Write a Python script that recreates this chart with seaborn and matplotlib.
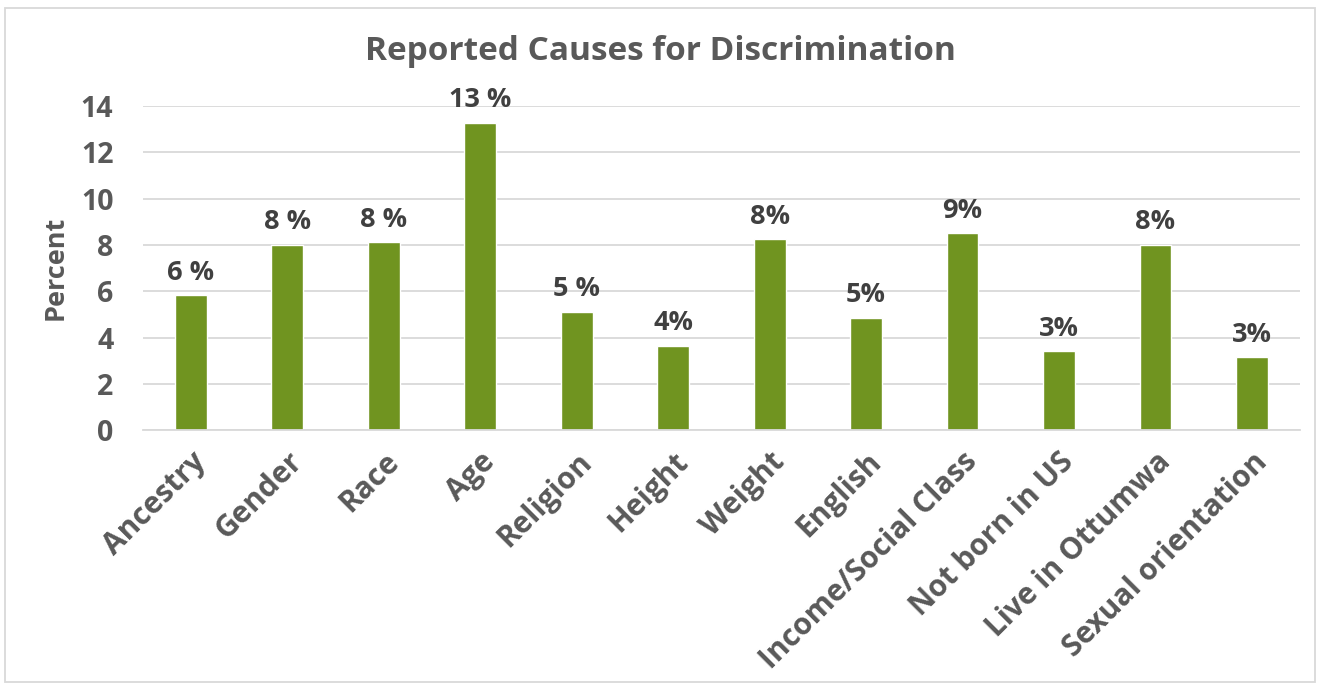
import matplotlib
matplotlib.use("Agg")
import matplotlib.pyplot as plt
import seaborn as sns
import pandas as pd
from matplotlib.patches import Rectangle

categories = ["Ancestry", "Gender", "Race", "Age", "Religion", "Height", "Weight",
              "English", "Income/Social Class", "Not born in US", "Live in Ottumwa",
              "Sexual orientation"]
values = [5.83, 8.0, 8.12, 13.28, 5.1, 3.63, 8.25, 4.84, 8.5, 3.41, 8.0, 3.15]
labels = ["6 %", "8 %", "8 %", "13 %", "5 %", "4%", "8%", "5%", "9%", "3%", "8%", "3%"]
yticks = [0, 2, 4, 6, 8, 10, 12, 14]

sns.set_theme(style="white")
plt.rcParams['font.family'] = ['Open Sans', 'DejaVu Sans']
plt.rcParams['font.weight'] = 'bold'

grey = "#595959"
bar_color = "#709420"

df = pd.DataFrame({"cat": categories, "val": values})

fig = plt.figure(figsize=(13.2, 6.85), dpi=100)
ax = fig.add_axes([0.108, 0.372, 0.877, 0.473])
sns.barplot(data=df, x="cat", y="val", color=bar_color, width=0.33, saturation=1, ax=ax)

ax.set_ylim(0, 14)
ax.set_yticks(yticks)
ax.set_yticklabels([str(t) for t in yticks], fontsize=20.5, fontweight='bold', color=grey)
ax.yaxis.grid(True, color="#d9d9d9", linewidth=1.3)
ax.set_axisbelow(True)
for s in ["top", "right", "left"]:
    ax.spines[s].set_visible(False)
ax.spines["bottom"].set_color("#d9d9d9")
ax.spines["bottom"].set_linewidth(1.3)
ax.tick_params(axis='y', length=0, pad=21)
ax.tick_params(axis='x', length=0, pad=12)

ax.set_xticks(range(len(categories)))
ax.set_xticklabels(categories, rotation=45, ha='right', rotation_mode='anchor',
                   fontsize=21.5, fontweight='bold', color=grey)
ax.set_xlabel("")
ax.set_ylabel("Percent", fontsize=19.5, fontweight='bold', color=grey, labelpad=9)

for i, (v, lab) in enumerate(zip(values, labels)):
    ax.annotate(lab, (i, v), xytext=(0, 7), textcoords='offset points', ha='center',
                va='bottom', fontsize=19.5, fontweight='bold', color="#404040")

fig.text(0.5, 0.925, "Reported Causes for Discrimination", ha='center', va='center',
         fontsize=24, fontweight='bold', color=grey)

fig.patches.append(Rectangle((0.004, 0.004), 0.992, 0.984, transform=fig.transFigure,
                             fill=False, edgecolor="#d9d9d9", linewidth=1.3))

fig.savefig("out.png", dpi=100)
